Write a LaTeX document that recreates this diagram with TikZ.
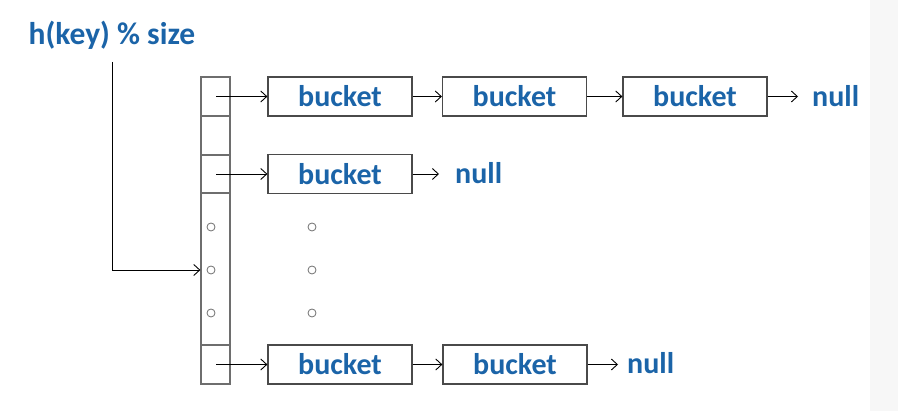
\documentclass[tikz,border=0pt]{standalone}
\usepackage{fontspec}
\setmainfont{Carlito}
\usetikzlibrary{arrows.meta}
\definecolor{txtblue}{HTML}{1B64A8}
\definecolor{boxgray}{HTML}{4A4A4A}
\definecolor{arrgray}{HTML}{6E6E6E}
\definecolor{stripgray}{HTML}{F7F7F7}
\tikzset{
  cell/.style={draw=arrgray,line width=1.2pt,minimum width=29pt,inner sep=0pt},
  bucketbox/.style={draw=boxgray,line width=1.2pt,minimum width=144pt,minimum height=39pt,inner sep=0pt,text=txtblue,font=\fontsize{30}{36}\selectfont\bfseries},
  nulltxt/.style={text=txtblue,font=\fontsize{30}{36}\selectfont\bfseries,inner sep=0pt,anchor=west},
  link/.style={line width=0.9pt,-{Straight Barb[length=6pt,width=11pt,line width=0.9pt]}},
  dot/.style={circle,draw=arrgray,line width=0.8pt,minimum size=8pt,inner sep=0pt}
}
\begin{document}
\begin{tikzpicture}[x=1pt,y=-1pt]
\useasboundingbox (0,0) rectangle (898,411);
\fill[stripgray] (870,0) rectangle (898,411);
% title
\node[text=txtblue,font=\fontsize{31.5}{36}\selectfont\bfseries,inner sep=0pt] (title) at (112,35) {h(key) \% size};
% array cells
\node[cell,minimum height=39pt] (a1) at (215.5,96.5) {};
\node[cell,minimum height=39pt] (a2) at (215.5,135.5) {};
\node[cell,minimum height=38pt] (a3) at (215.5,174) {};
\node[cell,minimum height=152pt] (a4) at (215.5,269) {};
\node[cell,minimum height=39pt] (a5) at (215.5,364.5) {};
% dots
\node[dot] (d1) at (211,227) {};
\node[dot] (d2) at (211,270) {};
\node[dot] (d3) at (211,313) {};
\node[dot] (e1) at (312,227) {};
\node[dot] (e2) at (312,270) {};
\node[dot] (e3) at (312,313) {};
% buckets
\node[bucketbox] (b11) at (340,96.5) {bucket};
\node[bucketbox] (b12) at (514.5,96.5) {bucket};
\node[bucketbox] (b13) at (695,96.5) {bucket};
\node[bucketbox] (b21) at (340,174) {bucket};
\node[bucketbox] (b51) at (340,364.5) {bucket};
\node[bucketbox] (b52) at (515,364.5) {bucket};
% nulls
\node[nulltxt] (n1) at (812,96) {null};
\node[nulltxt] (n2) at (455,173) {null};
\node[nulltxt] (n5) at (627,363) {null};
% start points
\coordinate (s1) at (216,96.5);
\coordinate (s2) at (216,174);
\coordinate (s5) at (216,364.5);
\coordinate (h0) at (112,62);
\coordinate (h1) at (112,270);
% links
\draw[link] (s1) -- (b11.west);
\draw[link] (b11.east) -- (b12.west);
\draw[link] (b12.east) -- (b13.west);
\draw[link,shorten >=14pt] (b13.east) -- (b13.east -| n1.west);
\draw[link] (s2) -- (b21.west);
\draw[link,shorten >=16pt] (b21.east) -- (b21.east -| n2.west);
\draw[link] (s5) -- (b51.west);
\draw[link] (b51.east) -- (b52.west);
\draw[link,shorten >=9pt] (b52.east) -- (b52.east -| n5.west);
\draw[link] (h0) -- (h1) -- (h1 -| a4.west);
\end{tikzpicture}
\end{document}
